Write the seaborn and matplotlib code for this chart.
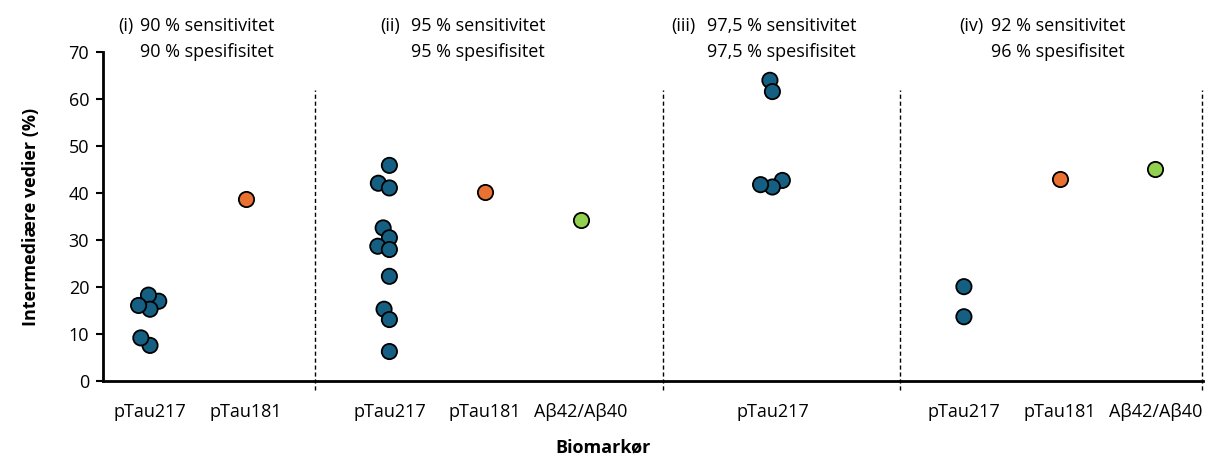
import pandas as pd
import matplotlib.pyplot as plt
import seaborn as sns

# data
groups = ["(i)", "(ii)", "(iii)", "(iv)"]
sens_lines = ["90 % sensitivitet", "95 % sensitivitet", "97,5 % sensitivitet", "92 % sensitivitet"]
spes_lines = ["90 % spesifisitet", "95 % spesifisitet", "97,5 % spesifisitet", "96 % spesifisitet"]

i_ptau217 = [17.0, 18.3, 15.3, 16.1, 7.6, 9.2]
i_ptau181 = [38.7]
ii_ptau217 = [45.9, 42.1, 41.1, 32.6, 30.5, 28.7, 28.0, 22.3, 15.3, 13.1, 6.3]
ii_ptau181 = [40.2]
ii_abeta = [34.2]
iii_ptau217 = [64.0, 61.6, 42.7, 41.3, 41.8]
iv_ptau217 = [20.1, 13.7]
iv_ptau181 = [43.1]
iv_abeta = [45.2]

tick_labels = ["pTau217", "pTau181", "pTau217", "pTau181", "A\u03b242/A\u03b240",
               "pTau217", "pTau217", "pTau181", "A\u03b242/A\u03b240"]

series = [
    ("(i)", "pTau217", i_ptau217), ("(i)", "pTau181", i_ptau181),
    ("(ii)", "pTau217", ii_ptau217), ("(ii)", "pTau181", ii_ptau181),
    ("(ii)", "Ab", ii_abeta),
    ("(iii)", "pTau217", iii_ptau217),
    ("(iv)", "pTau217", iv_ptau217), ("(iv)", "pTau181", iv_ptau181),
    ("(iv)", "Ab", iv_abeta),
]

# layout: slot for each column on the x axis
slots = [0, 1, 2.5, 3.5, 4.5, 6.5, 8.5, 9.5, 10.5]
dividers = [1.72, 5.36, 7.83, 10.99]
title_x = [-0.10, 2.73, 5.82, 8.78]
tag_x = [-0.33, 2.40, 5.44, 8.45]

rows = []
for slot, (g, marker, vals) in zip(slots, series):
    for v in vals:
        rows.append({"x": slot, "Biomarkør": marker, "verdi": v})
df = pd.DataFrame(rows)

palette = {"pTau217": "#156082", "pTau181": "#E97132", "Ab": "#92D050"}

sns.set_style("white")
plt.rcParams["font.family"] = ["Open Sans", "DejaVu Sans"]
plt.rcParams["text.color"] = "black"
plt.rcParams["xtick.color"] = "black"
plt.rcParams["ytick.color"] = "black"
plt.rcParams["axes.labelcolor"] = "black"

fig = plt.figure(figsize=(12.13, 4.57), dpi=100)
ax = fig.add_axes([0.085, 0.166, 0.907, 0.720])

ax.set_xlim(-0.49, 11.0)
ax.set_ylim(0, 70)

# swarm laid out with small markers so the enlarged dots overlap a little, as in the original
sns.swarmplot(data=df, x="x", y="verdi", hue="Biomarkør", palette=palette,
              native_scale=True, size=7, linewidth=1.3, edgecolor="black",
              legend=False, ax=ax, zorder=3)
ax.set_xlim(-0.49, 11.0)
ax.set_ylim(0, 70)
fig.canvas.draw()
for coll in ax.collections:
    if "draw" in coll.__dict__:
        del coll.draw  # keep the positions from the first layout
    coll.set_sizes([11.0 ** 2])

ax.set_yticks(range(0, 71, 10))
ax.set_xticks(slots)
ax.set_xticklabels(tick_labels)
ax.tick_params(axis="x", length=0, pad=16, labelsize=13)
ax.tick_params(axis="y", length=5, width=1.5, direction="out", left=True, labelsize=13, pad=5)

for side in ["top", "right"]:
    ax.spines[side].set_visible(False)
for side in ["left", "bottom"]:
    ax.spines[side].set_linewidth(2)
    ax.spines[side].set_color("black")

for d in dividers:
    ax.axvline(d, ymin=-0.028, ymax=0.886, color="black", lw=1, ls=(0, (3, 2)), clip_on=False)

for tag, tx, gx, l1, l2 in zip(groups, tag_x, title_x, sens_lines, spes_lines):
    ax.text(tx, 75.6, tag, fontsize=13, va="center", ha="left", clip_on=False)
    ax.text(gx, 75.6, l1, fontsize=13, va="center", ha="left", clip_on=False)
    ax.text(gx, 70.0, l2, fontsize=13, va="center", ha="left", clip_on=False)

ax.set_ylabel("Intermediære vedier (%)", fontsize=13, fontweight="bold")
ax.yaxis.set_label_coords(-0.057, 0.5)
ax.set_xlabel("Biomarkør", fontsize=13, fontweight="bold")
ax.xaxis.set_label_coords(0.454, -0.175)

fig.savefig("out.png", dpi=100)
